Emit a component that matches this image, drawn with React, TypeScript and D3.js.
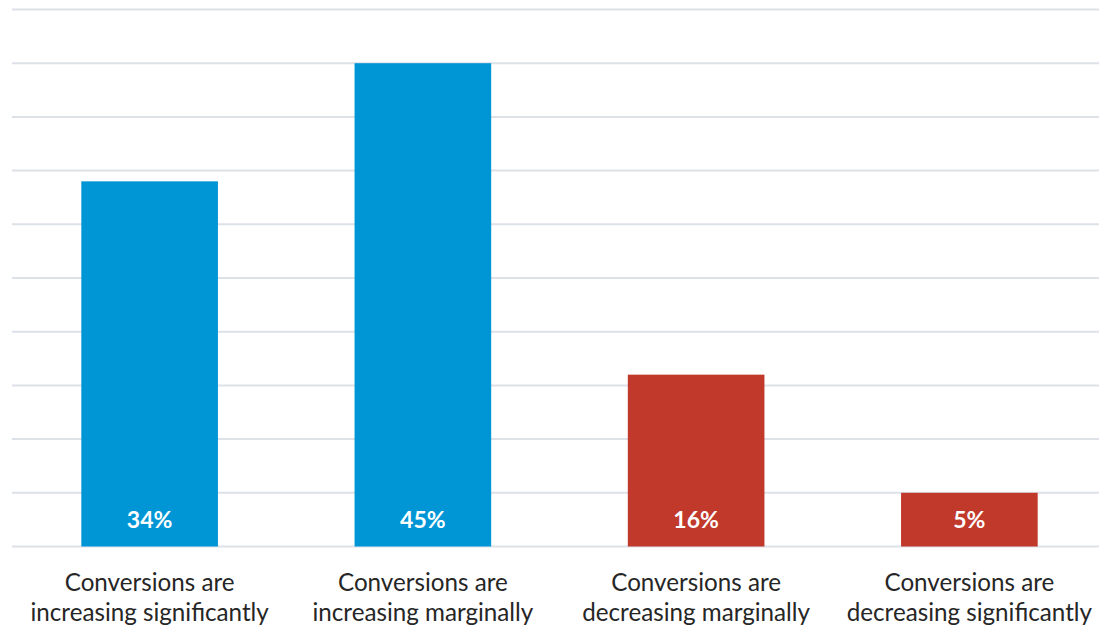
import React from "react";
import * as d3 from "d3";

const categories: string[][] = [
  ["Conversions are", "increasing significantly"],
  ["Conversions are", "increasing marginally"],
  ["Conversions are", "decreasing marginally"],
  ["Conversions are", "decreasing significantly"],
];
const values: number[] = [34, 45, 16, 5];
const colors: string[] = ["#0096D6", "#0096D6", "#C0392B", "#C0392B"];
const gridTicks: number[] = [0, 5, 10, 15, 20, 25, 30, 35, 40, 45, 50];

const W = 1099;
const H = 630;

export default function App() {
  const x = d3
    .scaleBand<number>()
    .domain(d3.range(values.length))
    .range([13, 1106])
    .paddingInner(0.5)
    .paddingOuter(0.25);
  const y = d3.scaleLinear().domain([0, 50]).range([546.5, 9.5]);

  return (
    <svg
      width={W}
      height={H}
      style={{ position: "absolute", left: 0, top: 0 }}
      fontFamily="Lato, 'Open Sans', sans-serif"
    >
      <rect x={0} y={0} width={W} height={H} fill="#ffffff" />
      {gridTicks.map((t) => (
        <line
          key={t}
          x1={12}
          x2={W}
          y1={y(t)}
          y2={y(t)}
          stroke="#dde1e8"
          strokeWidth={2}
        />
      ))}
      {values.map((v, i) => (
        <g key={i}>
          <rect
            x={x(i)}
            y={y(v)}
            width={x.bandwidth()}
            height={y(0) - y(v)}
            fill={colors[i]}
          />
          <text
            x={(x(i) as number) + x.bandwidth() / 2}
            y={528}
            textAnchor="middle"
            fill="#ffffff"
            fontWeight="bold"
            fontSize={23}
          >
            {v}%
          </text>
          {categories[i].map((line, j) => (
            <text
              key={j}
              x={(x(i) as number) + x.bandwidth() / 2}
              y={591 + j * 30}
              textAnchor="middle"
              fill="#262626"
              fontSize={24.2}
            >
              {line}
            </text>
          ))}
        </g>
      ))}
    </svg>
  );
}
